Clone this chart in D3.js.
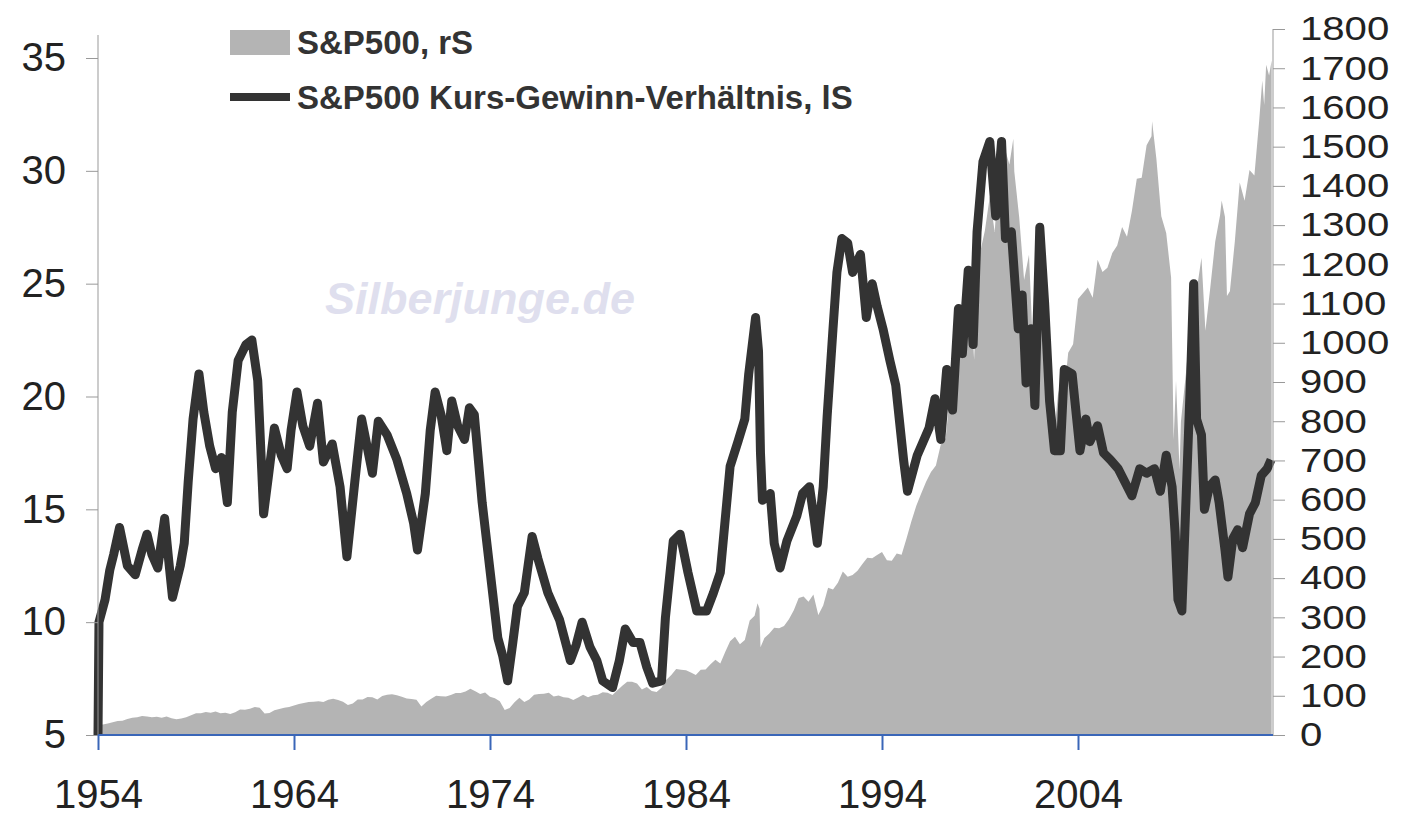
<!DOCTYPE html>
<html><head><meta charset="utf-8">
<script src="https://cdn.jsdelivr.net/npm/d3@7"></script>
<style>body{margin:0;background:#fff;} svg{display:block;}</style>
</head><body>
<svg id="c" width="1402" height="815"></svg>
<script>
// ---- data ----
const yearTicks = [1954, 1964, 1974, 1984, 1994, 2004];
const peTicks = [5, 10, 15, 20, 25, 30, 35];
const spTicks = [0,100,200,300,400,500,600,700,800,900,1000,1100,1200,1300,1400,1500,1600,1700,1800];
const legendLabels = ["S&P500, rS", "S&P500 Kurs-Gewinn-Verhältnis, lS"];
const watermark = "Silberjunge.de";

// S&P500 index (right scale): [year, value]
const sp500 = [
[1954.0,24.8],[1954.25,26.9],[1954.5,29.2],[1954.75,32.3],[1955.0,35.9],
[1955.25,36.6],[1955.5,41.0],[1955.75,43.7],[1956.0,45.5],
[1956.25,48.5],[1956.5,46.9],[1956.75,45.4],[1957.0,46.7],
[1957.25,44.1],[1957.5,47.4],[1957.75,42.4],[1958.0,39.9],
[1958.25,42.1],[1958.5,45.2],[1958.75,50.1],[1959.0,55.2],
[1959.25,55.4],[1959.5,58.5],[1959.75,56.9],[1960.0,59.9],
[1960.25,55.3],[1960.5,56.9],[1960.75,53.5],[1961.0,58.1],
[1961.25,65.1],[1961.5,64.6],[1961.75,66.7],[1962.0,71.6],
[1962.25,69.6],[1962.5,54.8],[1962.75,56.3],[1963.0,63.1],
[1963.25,66.6],[1963.5,69.4],[1963.75,71.7],[1964.0,75.0],
[1964.25,78.9],[1964.5,81.7],[1964.75,84.2],[1965.0,84.8],
[1965.25,86.2],[1965.5,84.1],[1965.75,89.9],[1966.0,92.4],
[1966.25,89.2],[1966.5,84.7],[1966.75,76.6],[1967.0,80.3],
[1967.25,90.2],[1967.5,90.6],[1967.75,96.7],[1968.0,96.5],
[1968.25,90.2],[1968.5,99.6],[1968.75,102.7],[1969.0,103.9],
[1969.25,101.5],[1969.5,97.7],[1969.75,93.1],[1970.0,92.1],
[1970.25,89.6],[1970.5,72.7],[1970.75,84.2],[1971.0,92.2],
[1971.25,100.3],[1971.5,99.0],[1971.75,98.3],[1972.0,102.1],
[1972.25,107.2],[1972.5,107.1],[1972.75,110.6],[1973.0,118.1],
[1973.25,111.5],[1973.5,104.3],[1973.75,108.4],[1974.0,97.6],
[1974.25,93.9],[1974.5,86.0],[1974.75,63.5],[1975.0,68.6],
[1975.25,83.4],[1975.5,95.2],[1975.75,83.9],[1976.0,90.2],
[1976.25,102.8],[1976.5,104.3],[1976.75,105.2],[1977.0,107.5],
[1977.25,98.4],[1977.5,100.5],[1977.75,96.5],[1978.0,95.1],
[1978.25,89.2],[1978.5,95.5],[1978.75,102.5],[1979.0,96.1],
[1979.25,101.6],[1979.5,102.9],[1979.75,109.3],[1980.0,107.9],
[1980.25,102.1],[1980.5,114.2],[1980.75,125.5],[1981.0,135.8],
[1981.25,136.0],[1981.5,131.2],[1981.75,116.2],[1982.0,122.6],
[1982.25,111.9],[1982.5,109.6],[1982.75,120.4],[1983.0,140.6],
[1983.25,153.0],[1983.5,168.1],[1983.75,166.1],[1984.0,164.9],
[1984.25,159.2],[1984.5,153.2],[1984.75,166.1],[1985.0,167.2],
[1985.25,180.7],[1985.5,191.9],[1985.75,182.1],[1986.0,211.3],
[1986.25,238.9],[1986.5,250.8],[1986.75,231.3],[1987.0,242.2],
[1987.25,291.7],[1987.5,304.0],[1987.65,336],[1987.75,321.8],[1987.8,224],[1988.0,247.1],
[1988.25,258.9],[1988.5,273.5],[1988.75,271.9],[1989.0,277.7],
[1989.25,294.9],[1989.5,317.9],[1989.75,349.2],[1990.0,353.4],
[1990.25,339.9],[1990.5,358.0],[1990.75,306.1],[1991.0,330.2],
[1991.25,375.2],[1991.5,371.2],[1991.75,387.9],[1992.0,417.1],
[1992.25,403.7],[1992.5,408.1],[1992.75,418.5],[1993.0,435.7],
[1993.25,451.7],[1993.5,450.5],[1993.75,458.9],[1994.0,466.5],
[1994.25,445.8],[1994.5,444.3],[1994.75,462.7],[1995.0,459.3],
[1995.25,500.7],[1995.5,544.8],[1995.75,584.4],[1996.0,615.9],
[1996.25,645.5],[1996.5,670.6],[1996.75,687.3],[1997.0,740.7],
[1997.25,757.1],[1997.5,885.1],[1997.75,947.3],[1998.0,970.4],
[1998.25,1101.8],[1998.5,1133.8],[1998.7,957],[1998.75,1017.0],[1999.0,1229.2],
[1999.25,1286.4],[1999.5,1372.7],[1999.75,1282.7],[2000.0,1469.3],
[2000.2,1527],[2000.25,1498.6],[2000.5,1454.6],[2000.7,1520],[2000.75,1436.5],[2001.0,1320.3],
[2001.25,1160.3],[2001.5,1224.4],[2001.72,965],[2001.75,1040.9],[2002.0,1148.1],
[2002.25,1147.4],[2002.5,989.8],[2002.55,797],[2002.75,815.3],[2002.8,776],[2003.0,879.8],
[2003.2,800],[2003.25,848.2],[2003.5,974.5],[2003.75,996.0],[2004.0,1111.9],
[2004.25,1126.2],[2004.5,1140.8],[2004.75,1114.6],[2005.0,1211.9],
[2005.25,1180.6],[2005.5,1191.3],[2005.75,1228.8],[2006.0,1248.3],
[2006.25,1294.9],[2006.5,1270.2],[2006.75,1335.9],[2007.0,1418.3],
[2007.25,1420.9],[2007.5,1503.4],[2007.75,1526.8],[2007.78,1565],[2008.0,1468.4],
[2008.25,1322.7],[2008.5,1280.0],[2008.75,1166.4],[2008.88,752],[2009.0,903.3],
[2009.18,676],[2009.25,797.9],[2009.5,919.3],[2009.75,1057.1],[2010.0,1115.1],
[2010.3,1217],[2010.5,1030.7],[2010.75,1141.2],[2011.0,1257.6],
[2011.25,1325.8],[2011.33,1363],[2011.5,1320.6],[2011.6,1119],[2011.75,1131.4],[2012.0,1257.6],
[2012.25,1408.5],[2012.5,1362.2],[2012.75,1440.7],[2013.0,1426.2],
[2013.25,1569.2],[2013.4,1669],[2013.5,1606.3],[2013.6,1709],[2013.75,1681.6],[2013.88,1720]
];

// S&P500 P/E ratio (left scale): [year, value]
const pe = [
[1954.0,5],[1954.05,10],[1954.36,11],[1954.6,12.3],[1954.8,13],[1955.1,14.2],[1955.5,12.5],[1955.9,12.1],
[1956.25,13.2],[1956.5,13.9],[1956.75,13],[1957.05,12.4],[1957.4,14.6],[1957.6,12.8],[1957.8,11.1],
[1958.2,12.5],[1958.4,13.5],[1958.6,16.2],[1958.85,19],[1959.15,21],[1959.4,19.3],[1959.7,17.8],
[1960.0,16.8],[1960.3,17.3],[1960.6,15.3],[1960.85,19.3],[1961.15,21.6],[1961.55,22.3],[1961.85,22.5],
[1962.15,20.7],[1962.35,16.8],[1962.45,14.8],[1962.7,16.5],[1963.0,18.6],[1963.35,17.4],[1963.65,16.8],
[1963.85,18.5],[1964.15,20.2],[1964.45,18.7],[1964.8,17.8],[1965.2,19.7],[1965.5,17.1],[1965.95,17.9],
[1966.35,16],[1966.7,12.9],[1967.1,16.2],[1967.45,19.0],[1968.0,16.6],[1968.3,18.9],[1968.75,18.3],
[1969.25,17.2],[1969.75,15.7],[1970.1,14.4],[1970.3,13.2],[1970.7,15.7],[1970.95,18.5],[1971.2,20.2],
[1971.5,19.2],[1971.8,17.6],[1972.05,19.8],[1972.35,18.7],[1972.7,18.1],[1972.95,19.5],[1973.2,19.2],
[1973.6,15.3],[1974.0,12.3],[1974.4,9.3],[1974.65,8.5],[1974.9,7.4],[1975.15,9],[1975.4,10.7],
[1975.75,11.3],[1976.15,13.8],[1976.45,12.8],[1976.95,11.3],[1977.55,10.1],[1978.1,8.3],[1978.4,9],
[1978.7,10],[1979.1,8.9],[1979.45,8.3],[1979.75,7.4],[1980.25,7.1],[1980.6,8.3],[1980.9,9.7],
[1981.3,9.1],[1981.65,9.1],[1982.0,8],[1982.3,7.3],[1982.75,7.4],[1982.95,10.2],[1983.35,13.6],
[1983.7,13.9],[1984.1,12.2],[1984.55,10.5],[1985.05,10.5],[1985.4,11.3],[1985.75,12.2],[1986.25,16.9],
[1986.65,18],[1987.0,19],[1987.2,21],[1987.55,23.5],[1987.7,22],[1987.8,17.5],[1987.9,15.4],
[1988.3,15.7],[1988.5,13.5],[1988.8,12.4],[1989.15,13.6],[1989.65,14.7],[1989.95,15.7],[1990.3,16],
[1990.55,14.5],[1990.7,13.5],[1991.0,16],[1991.2,19.1],[1991.5,23],[1991.7,25.5],[1991.95,27],
[1992.25,26.8],[1992.5,25.5],[1992.9,26.3],[1993.2,23.5],[1993.5,25],[1993.75,24],[1994.05,23],
[1994.4,21.6],[1994.7,20.5],[1995.1,17.2],[1995.3,15.8],[1995.8,17.4],[1996.4,18.6],[1996.7,19.9],
[1997.0,18.1],[1997.3,21.2],[1997.6,19.4],[1997.9,23.9],[1998.1,21.9],[1998.4,25.6],[1998.65,22.3],
[1998.85,27.3],[1999.15,30.4],[1999.5,31.3],[1999.8,28],[2000.1,31.3],[2000.3,27],[2000.6,27.3],
[2000.95,23],[2001.15,24.5],[2001.35,20.6],[2001.6,23],[2001.8,19.6],[2002.05,27.5],[2002.3,24.1],
[2002.55,19.8],[2002.8,17.6],[2003.1,17.6],[2003.3,21.2],[2003.7,21],[2004.1,17.6],[2004.4,19],
[2004.6,18],[2005.0,18.7],[2005.3,17.5],[2005.65,17.2],[2006.05,16.8],[2006.4,16.2],[2006.75,15.6],
[2007.15,16.8],[2007.5,16.6],[2007.9,16.8],[2008.2,15.8],[2008.5,17.4],[2008.8,16],[2008.95,14],
[2009.1,11],[2009.3,10.5],[2009.45,14],[2009.6,17.5],[2009.75,21],[2009.9,25],[2010.05,19],
[2010.3,18.3],[2010.45,15],[2010.7,16],[2011.0,16.3],[2011.2,15.3],[2011.5,13.2],[2011.65,12],
[2011.9,13.7],[2012.15,14.1],[2012.4,13.3],[2012.75,14.8],[2013.05,15.3],[2013.35,16.5],[2013.65,16.8],[2013.85,17.2]
];

// ---- chart ----
const svg = d3.select("#c");
const x = d3.scaleLinear().domain([1954, 2014]).range([98, 1274]);
const yPE = d3.scaleLinear().domain([5, 35]).range([735, 58]);
const ySP = d3.scaleLinear().domain([0, 1800]).range([735, 29]);
const FONT = "'Liberation Sans', Arial, sans-serif";

// area
svg.append("path").datum(sp500)
  .attr("fill", "#b4b4b4")
  .attr("d", d3.area().x(d => x(d[0])).y0(ySP(0)).y1(d => ySP(d[1])));

// watermark
svg.append("text").text(watermark)
  .attr("x", 480).attr("y", 314).attr("text-anchor", "middle")
  .attr("font-family", FONT).attr("font-size", 45).attr("font-weight", "bold")
  .attr("font-style", "italic").attr("fill", "#dfdfee");

// P/E line
svg.append("path").datum(pe)
  .attr("fill", "none").attr("stroke", "#333")
  .attr("stroke-width", 9).attr("stroke-linejoin", "round").attr("stroke-linecap", "butt")
  .attr("d", d3.line().x(d => x(d[0])).y(d => yPE(d[1])));

// left axis
const gL = svg.append("g").attr("transform", "translate(98,0)")
  .call(d3.axisLeft(yPE).tickValues(peTicks).tickSize(12).tickPadding(20).tickFormat(d3.format("d")));
gL.select(".domain").remove();
gL.append("line").attr("x1", 0).attr("x2", 0).attr("y1", 35).attr("y2", 735).attr("stroke", "#999");
gL.selectAll(".tick line").attr("stroke", "#999");
gL.selectAll(".tick text").attr("font-family", FONT).attr("font-size", 40).attr("fill", "#222");

// right axis
const gR = svg.append("g").attr("transform", "translate(1273,0)")
  .call(d3.axisRight(ySP).tickValues(spTicks).tickSize(12).tickPadding(0).tickFormat(d3.format("d")));
gR.select(".domain").remove();
gR.append("line").attr("x1", 0).attr("x2", 0).attr("y1", 29).attr("y2", 735).attr("stroke", "#999");
gR.selectAll(".tick line").attr("stroke", "#999");
gR.selectAll(".tick text").attr("font-family", FONT).attr("font-size", 34).attr("fill", "#222")
  .attr("x", 0).attr("transform", "translate(27,0) scale(1.18,1)");

// bottom axis
const gB = svg.append("g").attr("transform", "translate(0,735)")
  .call(d3.axisBottom(x).tickValues(yearTicks).tickSize(15).tickPadding(30).tickFormat(d3.format("d")));
gB.select(".domain").remove();
gB.append("line").attr("x1", 98).attr("x2", 1273).attr("y1", 0).attr("y2", 0)
  .attr("stroke", "#3a66b8").attr("stroke-width", 2);
gB.selectAll(".tick line").attr("stroke", "#3a66b8").attr("stroke-width", 2);
gB.selectAll(".tick text").attr("font-family", FONT).attr("font-size", 40).attr("fill", "#222");

// legend
const lg = svg.append("g");
lg.append("rect").attr("x", 230).attr("y", 30).attr("width", 60).attr("height", 25).attr("fill", "#b4b4b4");
lg.append("text").text(legendLabels[0]).attr("x", 297).attr("y", 54)
  .attr("font-family", FONT).attr("font-size", 33).attr("font-weight", "bold").attr("fill", "#333");
lg.append("line").attr("x1", 230).attr("x2", 290).attr("y1", 97).attr("y2", 97)
  .attr("stroke", "#333").attr("stroke-width", 8);
lg.append("text").text(legendLabels[1]).attr("x", 297).attr("y", 109)
  .attr("font-family", FONT).attr("font-size", 33).attr("font-weight", "bold").attr("fill", "#333");
</script>
</body></html>
